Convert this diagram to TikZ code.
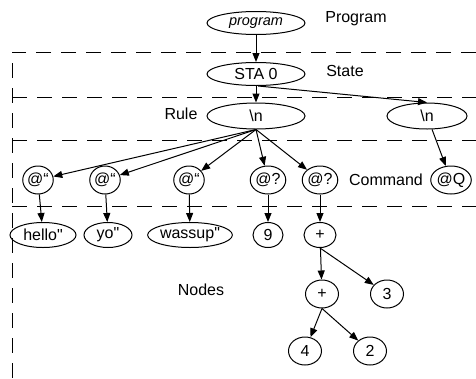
\documentclass[tikz,border=0pt]{standalone}
\usepackage{fontspec}
\setmainfont{Liberation Sans}[Ligatures=TeXOff]
\usetikzlibrary{shapes.geometric,arrows.meta}
\begin{document}
\begin{tikzpicture}[x=1pt,y=-1pt,
  every node/.style={font=\fontsize{16}{19}\selectfont},
  ov/.style={draw,ellipse,line width=1pt,inner sep=0pt},
  big/.style={ov,minimum width=98pt,minimum height=23pt},
  cmd/.style={ov,minimum width=25pt,minimum height=28pt},
  leaf/.style={ov,minimum height=25pt},
  num/.style={ov,minimum width=33pt,minimum height=28pt},
  arr/.style={line width=1pt,-{Triangle[length=9pt,width=7pt]}},
  sep/.style={line width=1pt,dash pattern=on 15pt off 10pt}]
\useasboundingbox (0,0) rectangle (476,378);
% separators
\coordinate (c1l) at (12,52);  \coordinate (c1r) at (476,52);
\coordinate (c2l) at (12,97);  \coordinate (c2r) at (476,97);
\coordinate (c3l) at (12,140); \coordinate (c3r) at (476,140);
\coordinate (c4l) at (12,206); \coordinate (c4r) at (476,206);
\coordinate (vb) at (12,378);
\draw[sep] (c1r) -- (c1l) -- (vb);
\draw[sep] (c2l) -- (c2r);
\draw[sep] (c3l) -- (c3r);
\draw[sep] (c4l) -- (c4r);
% labels
\node (lprog) at (356,19) {Program};
\node (lstate) at (345,71) {State};
\node (lrule) at (181,114) {Rule};
\node (lcmd) at (386,180) {Command};
\node (lnodes) at (201,290) {Nodes};
% top
\node[big] (prog) at (256,23) {\fontsize{14.5}{17}\selectfont\itshape program};
\node[big] (sta) at (256,74) {STA 0};
\node[big,minimum height=26pt] (rl) at (256,116) {\textbackslash n};
\node[ov,minimum width=80pt,minimum height=26pt] (rn) at (427,116) {\textbackslash n};
% commands
\node[cmd] (q1) at (38,180) {@“};
\node[cmd] (q2) at (105,180) {@“};
\node[cmd] (q3) at (189,180) {@“};
\node[cmd] (e1) at (268,180) {@?};
\node[cmd] (e2) at (320,180) {@?};
\node[cmd,minimum width=30pt] (cq) at (451,180) {@Q};
% nodes
\node[leaf,minimum width=66pt] (hello) at (43,235) {hello"};
\node[leaf,minimum width=48pt] (yo) at (108,235) {yo"};
\node[leaf,minimum width=82pt] (wass) at (190,235) {wassup"};
\node[leaf,minimum width=30pt] (nine) at (268,235) {9};
\node[leaf,minimum width=32pt] (p1) at (320,235) {+};
\node[num] (p2) at (322,294) {+};
\node[num] (n3) at (387,294) {3};
\node[num] (n4) at (305,351) {4};
\node[num] (n2) at (370,351) {2};
% connectors
\draw[arr] (prog) -- (sta);
\draw[arr] (sta) -- (rl);
\draw[arr] (sta.-80) -- (rn.north);
\draw[arr] (rl.south) -- (q1);
\draw[arr] (rl.south) -- (q2);
\draw[arr] (rl.south) -- (q3);
\draw[arr] (rl.south) -- (e1);
\draw[arr] (rl.south) -- (e2);
\draw[arr] (rn) -- (cq);
\draw[arr] (q1) -- (hello);
\draw[arr] (q2) -- (yo);
\draw[arr] (q3) -- (wass);
\draw[arr] (e1) -- (nine);
\draw[arr] (e2) -- (p1);
\draw[arr] (p1) -- (p2);
\draw[arr] (p1.south) -- (n3);
\draw[arr] (p2.south) -- (n4);
\draw[arr] (p2.south) -- (n2);
\end{tikzpicture}
\end{document}
